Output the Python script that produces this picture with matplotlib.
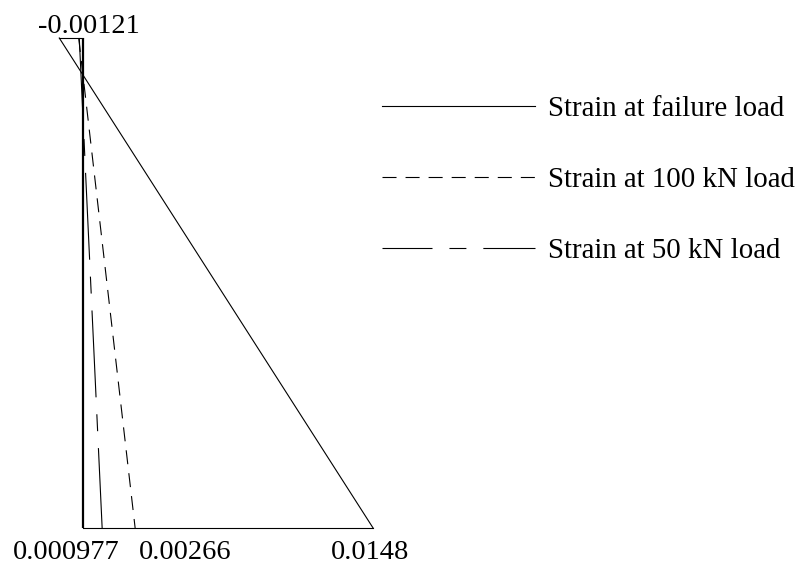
import matplotlib
matplotlib.use("Agg")
import matplotlib.pyplot as plt
from matplotlib.lines import Line2D

plt.rcParams['font.family'] = ['Liberation Serif', 'DejaVu Serif']
plt.rcParams['lines.scale_dashes'] = False

# strain profiles over the section depth (0 = top, 1 = bottom)
depth = [0.0, 1.0]
strain_failure = [-0.00121, 0.0148]
strain_100kn = [-0.00022, 0.00266]
strain_50kn = [-0.00019, 0.000977]

labels = ['Strain at failure load', 'Strain at 100 kN load', 'Strain at 50 kN load']

# value labels: (strain, depth, text)
value_labels = [
    (strain_failure[0], 0.0, '-0.00121'),
    (strain_50kn[1], 1.0, '0.000977'),
    (strain_100kn[1], 1.0, '0.00266'),
    (strain_failure[1], 1.0, '0.0148'),
]
# label offsets in points (x, y)
label_offsets = [(21, 3.6), (-25.6, -22.6), (36, -22.6), (-2, -22.6)]

W, H, DPI = 798, 564, 100
px_per_strain = 19600.0
x0_px, top_px, bot_px = 83, 38, 528

fig = plt.figure(figsize=(W / DPI, H / DPI), dpi=DPI)
ax = fig.add_axes([0, 0, 1, 1])
ax.set_xlim(-x0_px / px_per_strain, (W - x0_px) / px_per_strain)
span = bot_px - top_px
ax.set_ylim((H - top_px) / span, -top_px / span)
ax.axis('off')

dash_100 = (0, (10.1, 6.5))
dash_50 = (2, (62.6, 12.2, 12.2, 12.2))

# section reference line
ax.plot([0, 0], depth, color='black', lw=1.6, solid_capstyle='butt')
# failure profile with closing lines
ax.plot(strain_failure, depth, color='black', lw=0.8)
ax.plot([strain_failure[0], 0], [depth[0], depth[0]], color='black', lw=0.8)
ax.plot([0, strain_failure[1]], [depth[1], depth[1]], color='black', lw=0.8)
ax.plot(strain_100kn, depth, color='black', lw=0.8, linestyle=dash_100)
ax.plot(strain_50kn, depth, color='black', lw=0.8, linestyle=dash_50)

for (sx, sy, txt), (ox, oy) in zip(value_labels, label_offsets):
    ax.annotate(txt, (sx, sy), xytext=(ox, oy), textcoords='offset points',
                ha='center', va='baseline', fontsize=20.5)

handles = [
    Line2D([], [], color='black', lw=0.8),
    Line2D([], [], color='black', lw=0.8, linestyle=(0, (10.1, 6.5))),
    Line2D([], [], color='black', lw=0.8, linestyle=(26.6, (62.6, 12.2, 12.2, 12.2))),
]
leg = ax.legend(handles, labels, loc='upper left', bbox_to_anchor=(382 / W, 1 - 96 / H),
                frameon=False, fontsize=20.8, handlelength=5.3, handletextpad=0.45,
                labelspacing=1.55, borderpad=0, borderaxespad=0)

fig.savefig('out.png', dpi=DPI)
